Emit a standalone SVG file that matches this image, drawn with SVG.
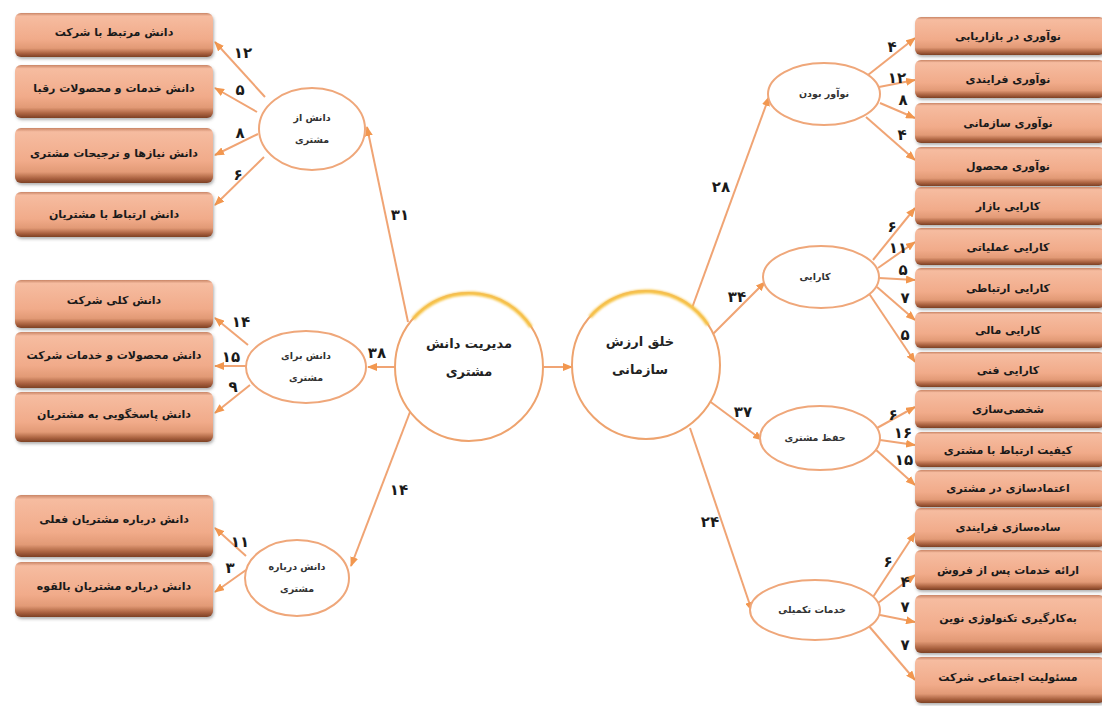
<svg xmlns="http://www.w3.org/2000/svg" width="1102" height="706" viewBox="0 0 1102 706">
<defs>
<linearGradient id="boxg" x1="0" y1="0" x2="0" y2="1">
<stop offset="0" stop-color="#c98566"/>
<stop offset="0.07" stop-color="#f6bca0"/>
<stop offset="0.6" stop-color="#f1ab8a"/>
<stop offset="0.8" stop-color="#e29a76"/>
<stop offset="0.92" stop-color="#a9613f"/>
<stop offset="1" stop-color="#7c4024"/>
</linearGradient>
<filter id="sh" x="-5%" y="-10%" width="112%" height="130%">
<feDropShadow dx="1" dy="2" stdDeviation="1.5" flood-color="#555" flood-opacity="0.45"/>
</filter>
<filter id="glow" x="-20%" y="-20%" width="140%" height="140%">
<feGaussianBlur stdDeviation="1.2"/>
</filter>
<marker id="ar" viewBox="0 0 10 8" refX="9" refY="4" markerWidth="10" markerHeight="8" markerUnits="userSpaceOnUse" orient="auto">
<path d="M0,0 L10,4 L0,8 z" fill="#f2974f"/>
</marker>
</defs>
<style>
.box{fill:url(#boxg);filter:url(#sh);}
.bt{font-family:"DejaVu Sans",sans-serif;font-size:11px;font-weight:bold;fill:#1a1a1a;text-anchor:middle;direction:rtl;}
.el{fill:#fff;stroke:#efa77a;stroke-width:2;}
.et{font-family:"DejaVu Sans",sans-serif;font-size:9.5px;font-weight:bold;fill:#333;text-anchor:middle;direction:rtl;}
.ci{fill:#fff;stroke:#eea36e;stroke-width:2;}
.ct{font-family:"DejaVu Sans",sans-serif;font-size:13px;font-weight:bold;fill:#222;text-anchor:middle;direction:rtl;}
.gl{fill:none;stroke:#f7c54a;stroke-width:4;filter:url(#glow);}
.cn line{stroke:#f0a474;stroke-width:2;marker-end:url(#ar);}
.n{font-family:"DejaVu Sans",sans-serif;font-size:15px;font-weight:bold;fill:#1a1a1a;text-anchor:middle;}
</style>
<rect width="1102" height="706" fill="#fff"/>

<g id="connectors" class="cn">
<line x1="408" y1="322" x2="367" y2="127"/>
<line x1="395" y1="367" x2="368" y2="367"/>
<line x1="410" y1="412" x2="351" y2="566"/>
<line x1="543" y1="367" x2="572" y2="367"/>
<line x1="692" y1="308" x2="769" y2="97"/>
<line x1="712" y1="335" x2="765" y2="282"/>
<line x1="708" y1="400" x2="762" y2="440"/>
<line x1="690" y1="428" x2="752" y2="611"/>
<line x1="265" y1="97" x2="215" y2="42"/>
<line x1="257" y1="112" x2="215" y2="88"/>
<line x1="258" y1="134" x2="215" y2="155"/>
<line x1="264" y1="157" x2="215" y2="205"/>
<line x1="248" y1="345" x2="215" y2="318"/>
<line x1="246" y1="366" x2="215" y2="366"/>
<line x1="250" y1="385" x2="215" y2="413"/>
<line x1="246" y1="556" x2="215" y2="528"/>
<line x1="246" y1="570" x2="215" y2="592"/>
<line x1="868" y1="75" x2="915" y2="38"/>
<line x1="879" y1="87" x2="915" y2="80"/>
<line x1="880" y1="103" x2="915" y2="118"/>
<line x1="866" y1="117" x2="915" y2="160"/>
<line x1="873" y1="260" x2="915" y2="208"/>
<line x1="878" y1="268" x2="915" y2="242"/>
<line x1="879" y1="278" x2="915" y2="280"/>
<line x1="877" y1="287" x2="915" y2="320"/>
<line x1="868" y1="292" x2="915" y2="362"/>
<line x1="877" y1="428" x2="915" y2="407"/>
<line x1="880" y1="440" x2="915" y2="445"/>
<line x1="875" y1="449" x2="915" y2="485"/>
<line x1="873" y1="597" x2="915" y2="533"/>
<line x1="878" y1="603" x2="915" y2="575"/>
<line x1="880" y1="615" x2="915" y2="622"/>
<line x1="868" y1="625" x2="915" y2="680"/>
</g>

<g id="labels">
<text class="n" x="243" y="58">۱۲</text>
<text class="n" x="240" y="95">۵</text>
<text class="n" x="240" y="138">۸</text>
<text class="n" x="238" y="180">۶</text>
<text class="n" x="241" y="327">۱۴</text>
<text class="n" x="231" y="362">۱۵</text>
<text class="n" x="233" y="392">۹</text>
<text class="n" x="240" y="547">۱۱</text>
<text class="n" x="230" y="573">۳</text>
<text class="n" x="400" y="220">۳۱</text>
<text class="n" x="377" y="358">۳۸</text>
<text class="n" x="399" y="495">۱۴</text>
<text class="n" x="721" y="192">۲۸</text>
<text class="n" x="737" y="302">۳۴</text>
<text class="n" x="743" y="417">۳۷</text>
<text class="n" x="710" y="527">۲۴</text>
<text class="n" x="892" y="52">۴</text>
<text class="n" x="897" y="83">۱۲</text>
<text class="n" x="903" y="105">۸</text>
<text class="n" x="902" y="140">۴</text>
<text class="n" x="892" y="232">۶</text>
<text class="n" x="898" y="253">۱۱</text>
<text class="n" x="903" y="275">۵</text>
<text class="n" x="905" y="303">۷</text>
<text class="n" x="905" y="340">۵</text>
<text class="n" x="893" y="420">۶</text>
<text class="n" x="903" y="438">۱۶</text>
<text class="n" x="904" y="465">۱۵</text>
<text class="n" x="888" y="567">۶</text>
<text class="n" x="905" y="587">۴</text>
<text class="n" x="905" y="612">۷</text>
<text class="n" x="905" y="650">۷</text>
</g>

<g id="c-mdm"><circle class="ci" cx="469" cy="367" r="74"/><path class="gl" d="M413,319 A74,74 0 0 1 531,327"/><text class="ct" x="469" y="348">مدیریت دانش</text><text class="ct" x="469" y="376">مشتری</text></g>
<g id="c-kharzesh"><circle class="ci" cx="646" cy="365" r="74"/><path class="gl" d="M590,317 A74,74 0 0 1 708,325"/><text class="ct" x="640" y="346">خلق ارزش</text><text class="ct" x="640" y="374">سازمانی</text></g>

<g id="e-az"><ellipse class="el" cx="312" cy="129" rx="53" ry="41"/><text class="et" x="312" y="121">دانش از</text><text class="et" x="312" y="143">مشتری</text></g>
<g id="e-baray"><ellipse class="el" cx="306" cy="367" rx="60" ry="36"/><text class="et" x="306" y="359">دانش برای</text><text class="et" x="306" y="381">مشتری</text></g>
<g id="e-darbare"><ellipse class="el" cx="297" cy="578" rx="52" ry="38"/><text class="et" x="297" y="570">دانش درباره</text><text class="et" x="297" y="592">مشتری</text></g>
<g id="e-noavar"><ellipse class="el" cx="824" cy="94" rx="56" ry="31"/><text class="et" x="824" y="97">نوآور بودن</text></g>
<g id="e-karayi"><ellipse class="el" cx="821" cy="277" rx="58" ry="31"/><text class="et" x="815" y="280">کارایی</text></g>
<g id="e-hefz"><ellipse class="el" cx="820" cy="438" rx="60" ry="32"/><text class="et" x="815" y="441">حفظ مشتری</text></g>
<g id="e-khadamat"><ellipse class="el" cx="815" cy="610" rx="65" ry="30"/><text class="et" x="812" y="613">خدمات تکمیلی</text></g>

<g id="b1"><rect class="box" x="15" y="13" width="198" height="44" rx="6"/><text class="bt" x="114" y="36">دانش مرتبط با شرکت</text></g>
<g id="b2"><rect class="box" x="15" y="65" width="198" height="53" rx="6"/><text class="bt" x="114" y="92">دانش خدمات و محصولات رقبا</text></g>
<g id="b3"><rect class="box" x="15" y="128" width="198" height="55" rx="6"/><text class="bt" x="114" y="157">دانش نیازها و ترجیحات مشتری</text></g>
<g id="b4"><rect class="box" x="15" y="192" width="198" height="45" rx="6"/><text class="bt" x="114" y="218">دانش ارتباط با مشتریان</text></g>
<g id="b5"><rect class="box" x="15" y="280" width="198" height="48" rx="6"/><text class="bt" x="114" y="304">دانش کلی شرکت</text></g>
<g id="b6"><rect class="box" x="15" y="332" width="198" height="56" rx="6"/><text class="bt" x="114" y="359">دانش محصولات و خدمات شرکت</text></g>
<g id="b7"><rect class="box" x="15" y="392" width="198" height="50" rx="6"/><text class="bt" x="114" y="418">دانش پاسخگویی به مشتریان</text></g>
<g id="b8"><rect class="box" x="15" y="495" width="198" height="62" rx="6"/><text class="bt" x="114" y="523">دانش درباره مشتریان فعلی</text></g>
<g id="b9"><rect class="box" x="15" y="562" width="198" height="55" rx="6"/><text class="bt" x="114" y="590">دانش درباره مشتریان بالقوه</text></g>

<g id="r1"><rect class="box" x="915" y="17" width="190" height="38" rx="6"/><text class="bt" x="1008" y="40">نوآوری در بازاریابی</text></g>
<g id="r2"><rect class="box" x="915" y="60" width="190" height="38" rx="6"/><text class="bt" x="1008" y="83">نوآوری فرایندی</text></g>
<g id="r3"><rect class="box" x="915" y="103" width="190" height="40" rx="6"/><text class="bt" x="1008" y="127">نوآوری سازمانی</text></g>
<g id="r4"><rect class="box" x="915" y="147" width="190" height="39" rx="6"/><text class="bt" x="1008" y="170">نوآوری محصول</text></g>
<g id="r5"><rect class="box" x="915" y="187" width="190" height="38" rx="6"/><text class="bt" x="1008" y="210">کارایی بازار</text></g>
<g id="r6"><rect class="box" x="915" y="228" width="190" height="37" rx="6"/><text class="bt" x="1008" y="251">کارایی عملیاتی</text></g>
<g id="r7"><rect class="box" x="915" y="268" width="190" height="40" rx="6"/><text class="bt" x="1008" y="292">کارایی ارتباطی</text></g>
<g id="r8"><rect class="box" x="915" y="312" width="190" height="36" rx="6"/><text class="bt" x="1008" y="334">کارایی مالی</text></g>
<g id="r9"><rect class="box" x="915" y="352" width="190" height="35" rx="6"/><text class="bt" x="1008" y="374">کارایی فنی</text></g>
<g id="r10"><rect class="box" x="915" y="390" width="190" height="38" rx="6"/><text class="bt" x="1008" y="413">شخصی‌سازی</text></g>
<g id="r11"><rect class="box" x="915" y="432" width="190" height="35" rx="6"/><text class="bt" x="1008" y="454">کیفیت ارتباط با مشتری</text></g>
<g id="r12"><rect class="box" x="915" y="470" width="190" height="37" rx="6"/><text class="bt" x="1008" y="492">اعتمادسازی در مشتری</text></g>
<g id="r13"><rect class="box" x="915" y="508" width="190" height="39" rx="6"/><text class="bt" x="1008" y="531">ساده‌سازی فرایندی</text></g>
<g id="r14"><rect class="box" x="915" y="550" width="190" height="40" rx="6"/><text class="bt" x="1008" y="574">ارائه خدمات پس از فروش</text></g>
<g id="r15"><rect class="box" x="915" y="595" width="190" height="58" rx="6"/><text class="bt" x="1008" y="622">به‌کارگیری تکنولوژی نوین</text></g>
<g id="r16"><rect class="box" x="915" y="657" width="190" height="46" rx="6"/><text class="bt" x="1008" y="681">مسئولیت اجتماعی شرکت</text></g>
</svg>
